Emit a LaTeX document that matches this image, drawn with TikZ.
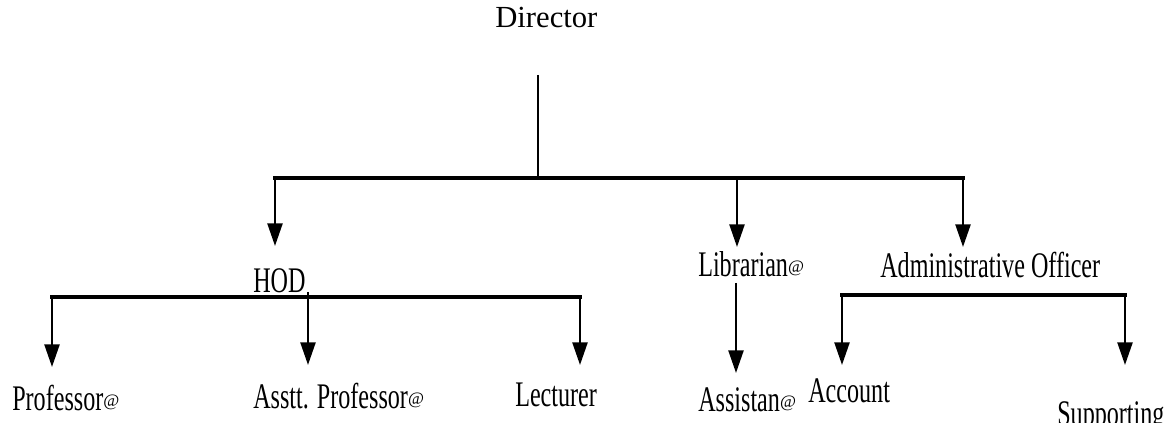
\documentclass[tikz,border=0pt]{standalone}
\usepackage{fontspec}
\setmainfont{Liberation Serif}
\newfontfamily\narrowfont[FakeStretch=0.67]{Liberation Serif}
\usetikzlibrary{arrows.meta, positioning}
\newcommand{\swirl}{{\rmfamily\fontsize{13pt}{13pt}\selectfont\raisebox{3pt}{@}}}

\begin{document}
\begin{tikzpicture}[x=0.75pt, y=-0.75pt]
\tikzstyle{head} = [inner sep=0pt, anchor=base west, font=\fontsize{23pt}{26pt}\selectfont]
\tikzstyle{post} = [inner sep=0pt, anchor=base west, font=\narrowfont\fontsize{27pt}{30pt}\selectfont]
\tikzstyle{stem} = [line width=1.5pt]
\tikzstyle{bar} = [line width=3pt, line cap=rect]
\tikzstyle{arrowline} = [line width=1.8pt, -{Triangle[width=11.25pt, length=17pt]}]

\useasboundingbox (0,0) rectangle (1174,423);
\clip (0,0) rectangle (1174,423);

\node (director) [head] at (495,28) {Director};
\node (hod) [post] at (253,293) {HOD};
\node (librarian) [post] at (698,277) {Librarian\swirl};
\node (admin) [post] at (880,278) {Administrative Officer};
\node (professor) [post] at (12,411) {Professor\swirl};
\node (asstt) [post] at (253,409) {Asstt. Professor\swirl};
\node (lecturer) [post] at (515,407) {Lecturer};
\node (assistant) [post] at (698,412) {Assistan\swirl};
\node (account) [post] at (808,403) {Account};
\node (supporting) [post] at (1057,426) {Supporting};

\coordinate (dirstem) at (538,75);
\coordinate (topleft) at (275,178);
\coordinate (topright) at (963,178);
\coordinate (hodin) at (275,246);
\coordinate (libin) at (737,247);
\coordinate (adminin) at (963,247);
\coordinate (hodleft) at (52,297);
\coordinate (hodright) at (580,297);
\coordinate (assttstem) at (308,292);
\coordinate (profin) at (52,367);
\coordinate (assttin) at (308,365);
\coordinate (lectin) at (580,365);
\coordinate (libstem) at (736,283);
\coordinate (assistin) at (736,373);
\coordinate (admleft) at (842,295);
\coordinate (admright) at (1125,295);
\coordinate (accin) at (842,365);
\coordinate (suppin) at (1125,365);

\draw[stem] (dirstem) -- (dirstem |- topleft);
\draw[bar] (topleft) -- (topright);
\draw[arrowline] (topleft) -- (hodin);
\draw[arrowline] (libin |- topleft) -- (libin);
\draw[arrowline] (topright) -- (adminin);

\draw[bar] (hodleft) -- (hodright);
\draw[arrowline] (hodleft) -- (profin);
\draw[arrowline] (assttstem) -- (assttin);
\draw[arrowline] (hodright) -- (lectin);

\draw[arrowline] (libstem) -- (assistin);

\draw[bar] (admleft) -- (admright);
\draw[arrowline] (admleft) -- (accin);
\draw[arrowline] (admright) -- (suppin);

\end{tikzpicture}
\end{document}
